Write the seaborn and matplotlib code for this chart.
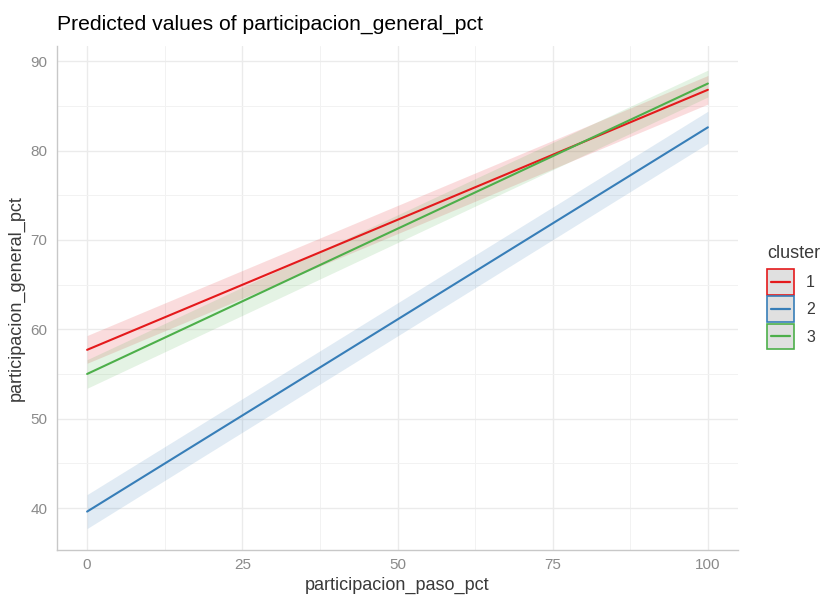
import matplotlib
matplotlib.use("Agg")
import matplotlib.pyplot as plt
from matplotlib.patches import Rectangle
from matplotlib.lines import Line2D
from matplotlib.legend_handler import HandlerBase
from matplotlib.ticker import MultipleLocator
import pandas as pd
import seaborn as sns

# Predicted values (with 95% CI) at the ends of the participacion_paso_pct range
x_vals = [0, 100]
clusters = ["1", "2", "3"]
pred_c1 = [57.7, 86.8]
low_c1 = [56.2, 85.2]
high_c1 = [59.3, 88.4]
pred_c2 = [39.6, 82.6]
low_c2 = [37.7, 80.8]
high_c2 = [41.5, 84.4]
pred_c3 = [55.0, 87.5]
low_c3 = [53.4, 86.0]
high_c3 = [56.6, 89.0]

x_ticks = [0, 25, 50, 75, 100]
y_ticks = [40, 50, 60, 70, 80, 90]

palette = {"1": "#E41A1C", "2": "#377EB8", "3": "#4DAF4A"}

df = pd.DataFrame({
    "participacion_paso_pct": x_vals * 3,
    "participacion_general_pct": pred_c1 + pred_c2 + pred_c3,
    "conf_low": low_c1 + low_c2 + low_c3,
    "conf_high": high_c1 + high_c2 + high_c3,
    "cluster": [c for c in clusters for _ in x_vals],
})


class BandKey:
    def __init__(self, color):
        self.color = color


class BandKeyHandler(HandlerBase):
    """Grey key box with a coloured border and a line through the middle."""

    def create_artists(self, legend, orig_handle, xdescent, ydescent,
                       width, height, fontsize, trans):
        box = Rectangle((-xdescent, -ydescent), width, height,
                        facecolor="#e0e0e0", edgecolor=orig_handle.color,
                        linewidth=1.2, transform=trans)
        ymid = -ydescent + height / 2
        line = Line2D([-xdescent + 0.15 * width, -xdescent + 0.85 * width],
                      [ymid, ymid], color=orig_handle.color, linewidth=1.6,
                      transform=trans)
        return [box, line]


sns.set_theme(style="whitegrid")
plt.rcParams["font.family"] = ["Liberation Sans", "DejaVu Sans"]

fig = plt.figure(figsize=(8.21, 5.96), dpi=100)
ax = fig.add_axes([57 / 821, 1 - 550 / 596, (738 - 57) / 821, (550 - 46) / 596])

for c in clusters:
    sub = df[df["cluster"] == c]
    ax.fill_between(sub["participacion_paso_pct"], sub["conf_low"], sub["conf_high"],
                    color=palette[c], alpha=0.15, linewidth=0, zorder=2)

sns.lineplot(data=df, x="participacion_paso_pct", y="participacion_general_pct",
             hue="cluster", palette=palette, linewidth=1.5, ax=ax, legend=False,
             zorder=3)

ax.set_xlim(-4.85, 104.85)
ax.set_ylim(35.3, 91.7)
ax.set_xticks(x_ticks)
ax.set_yticks(y_ticks)
ax.xaxis.set_minor_locator(MultipleLocator(12.5))
ax.yaxis.set_minor_locator(MultipleLocator(5))

ax.set_facecolor("white")
ax.grid(which="major", color="#ebebeb", linewidth=1.0)
ax.grid(which="minor", color="#f2f2f2", linewidth=0.7)
ax.set_axisbelow(True)
for side in ["top", "right"]:
    ax.spines[side].set_visible(False)
for side in ["left", "bottom"]:
    ax.spines[side].set_visible(True)
    ax.spines[side].set_color("#c8c8c8")
    ax.spines[side].set_linewidth(1.0)
ax.tick_params(axis="both", which="both", length=0, labelsize=11,
               labelcolor="#8a8a8a")
ax.tick_params(axis="x", pad=6)
ax.tick_params(axis="y", pad=7)

ax.set_xlabel("participacion_paso_pct", fontsize=13, color="#3a3a3a", labelpad=3)
ax.set_ylabel("participacion_general_pct", fontsize=13, color="#3a3a3a", labelpad=4)
ax.set_title("Predicted values of participacion_general_pct", loc="left",
             fontsize=15.2, color="black", pad=12)

# Legend: title drawn as its own text, keys below it
fig.text(767 / 821, 1 - 258 / 596, "cluster", fontsize=13, color="#3a3a3a",
         ha="left", va="baseline")
handles = [BandKey(palette[c]) for c in clusters]
leg = fig.legend(handles, clusters,
                 handler_map={BandKey: BandKeyHandler()},
                 loc="upper left", bbox_to_anchor=(767 / 821, 1 - 269 / 596),
                 frameon=False, fontsize=11.5,
                 handlelength=1.7, handleheight=2.1, handletextpad=0.75,
                 labelspacing=0.1, borderaxespad=0, borderpad=0)
for t in leg.get_texts():
    t.set_color("#3a3a3a")

fig.savefig("out.png", dpi=100, facecolor="white")
